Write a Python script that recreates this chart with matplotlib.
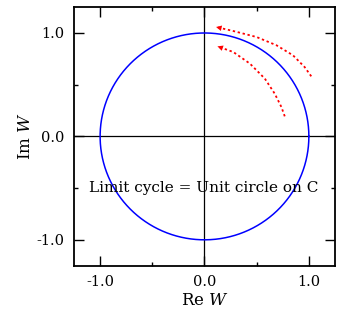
import matplotlib
matplotlib.use("Agg")
import matplotlib.pyplot as plt
import numpy as np

# Data
circle_radius = 1.0
outer_x = [1.023, 0.959, 0.848, 0.690, 0.499, 0.276, 0.111]
outer_y = [0.581, 0.671, 0.784, 0.881, 0.961, 1.019, 1.058]
inner_x = [0.769, 0.737, 0.673, 0.578, 0.435, 0.276, 0.124]
inner_y = [0.194, 0.284, 0.413, 0.559, 0.704, 0.816, 0.871]
major_ticks = [-1.0, 0.0, 1.0]
tick_labels = ["-1.0", "0.0", "1.0"]
minor_ticks = [-0.5, 0.5]
annotation = "Limit cycle = Unit circle on C"

plt.rcParams['font.family'] = ['DejaVu Serif']
plt.rcParams['mathtext.fontset'] = 'dejavuserif'

fig = plt.figure(figsize=(3.38, 3.10), dpi=100)
ax = fig.add_axes([0.219, 0.143, 0.772, 0.834])

theta = np.linspace(0, 2 * np.pi, 400)
ax.axhline(0, color='black', lw=0.9, zorder=1)
ax.axvline(0, color='black', lw=0.9, zorder=1)
ax.plot(circle_radius * np.cos(theta), circle_radius * np.sin(theta), color='#0000ff', lw=1.1, zorder=2)

for xs, ys in [(outer_x, outer_y), (inner_x, inner_y)]:
    ax.plot(xs, ys, color='red', lw=1.3, ls=(0, (1.3, 1.5)), zorder=3)
    ax.annotate('', xy=(xs[-1], ys[-1]), xytext=(xs[-2], ys[-2]),
                arrowprops=dict(arrowstyle='-|>', color='red', lw=0, mutation_scale=10,
                                shrinkA=0, shrinkB=0), zorder=3)

ax.text(-0.01, -0.5, annotation, ha='center', va='center', fontsize=11, zorder=4)

ax.set_xlim(-1.25, 1.25)
ax.set_ylim(-1.25, 1.25)
ax.set_xticks(major_ticks)
ax.set_xticklabels(tick_labels)
ax.set_yticks(major_ticks)
ax.set_yticklabels(tick_labels)
ax.set_xticks(minor_ticks, minor=True)
ax.set_yticks(minor_ticks, minor=True)
ax.tick_params(which='both', direction='in', top=True, right=True, width=1.0, colors='black')
ax.tick_params(which='major', length=7.5, labelsize=10.5, pad=7)
ax.tick_params(which='minor', length=3)
for s in ax.spines.values():
    s.set_linewidth(1.3)

ax.set_xlabel(r'Re $\it{W}$', fontsize=12, labelpad=2)
ax.set_ylabel(r'Im $\it{W}$', fontsize=12, labelpad=2)

fig.savefig('out.png', dpi=100)
